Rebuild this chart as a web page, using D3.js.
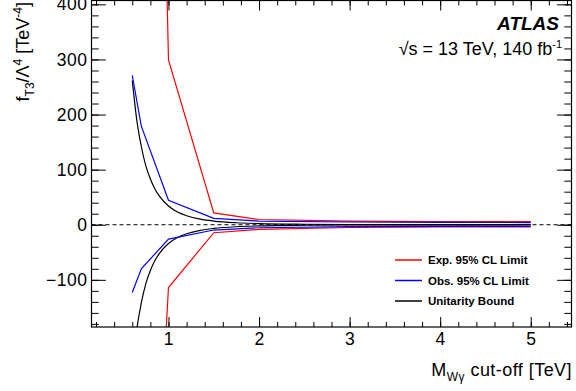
<!DOCTYPE html>
<html>
<head>
<meta charset="utf-8">
<script src="https://cdn.jsdelivr.net/npm/d3@7"></script>
<style>
  body { margin: 0; background: #fff; }
  svg { display: block; font-family: "Liberation Sans", Arial, Helvetica, sans-serif; }
</style>
</head>
<body>
<div id="chart"></div>
<script>
// --- data
const massExp = [0.7, 1.0, 1.5, 2, 3, 4, 5];
const expUpper = [2500, 299, 21.5, 9.5, 6.5, 5.8, 5.5];
const expLower = [-1000, -114, -14.5, -8.5, -5, -4, -4];

const massObs = [0.6, 0.7, 1.0, 1.5, 2, 3, 4, 5];
const obsUpper = [271, 179, 44.5, 11.6, 6.5, 5, 4.2, 4];
const obsLower = [-123, -80, -26, -9.6, -5.5, -3.5, -3, -3];

const massUni = [0.6, 0.65, 0.7, 0.75, 0.8, 0.85, 0.9, 1.0, 1.1, 1.2, 1.35, 1.5, 1.75, 2, 2.5, 3, 4, 5];
const uniUpper = [262, 190, 142, 107, 83, 65, 52, 34, 23, 16.4, 10.2, 6.7, 3.6, 2.1, 0.9, 0.4, 0.13, 0.05];
const uniLower = [-262, -190, -142, -107, -83, -65, -52, -34, -23, -16.4, -10.2, -6.7, -3.6, -2.1, -0.9, -0.4, -0.13, -0.05];

const xMajor = [1, 2, 3, 4, 5];
const yMajor = [-100, 0, 100, 200, 300, 400];
const legendLabels = ['Exp. 95% CL Limit', 'Obs. 95% CL Limit', 'Unitarity Bound'];
const legendColors = ['#ff0000', '#0000ff', '#000000'];

const width = 576, height = 391;
const frame = { left: 91.5, right: 571.5, top: 0.5, bottom: 327 };

const svg = d3.select('#chart').append('svg')
    .attr('width', width).attr('height', height);

const x = d3.scaleLinear().domain([0.15, 5.45]).range([frame.left, frame.right]);
const y = d3.scaleLinear().domain([-185.6, 407]).range([frame.bottom, frame.top]);

const xMinor = d3.range(0.2, 5.45, 0.2).map(v => +v.toFixed(1));
const yMinor = d3.range(-180, 407, 20);

svg.append('clipPath').attr('id', 'plot')
    .append('rect').attr('x', frame.left).attr('y', frame.top)
    .attr('width', frame.right - frame.left).attr('height', frame.bottom - frame.top);

// --- axes (ROOT style, ticks inside on all four sides)
const fmt = d => d < 0 ? '\u2212' + Math.abs(d) : String(d);

function styleAxis(g) {
    g.select('.domain').remove();
    g.selectAll('line').attr('stroke', '#000').attr('stroke-width', 1);
    g.selectAll('text').attr('fill', '#000').attr('font-size', 17.5)
        .attr('letter-spacing', 0.5)
        .attr('font-family', '"Liberation Sans", Arial, sans-serif');
}

svg.append('g').attr('transform', `translate(0,${frame.bottom})`)
    .call(d3.axisBottom(x).tickValues(xMajor).tickFormat(d3.format('d'))
        .tickSizeInner(-10).tickSizeOuter(0).tickPadding(6))
    .call(styleAxis);
svg.append('g').attr('transform', `translate(0,${frame.bottom})`)
    .call(d3.axisBottom(x).tickValues(xMinor).tickFormat('')
        .tickSizeInner(-5).tickSizeOuter(0))
    .call(styleAxis);
svg.append('g').attr('transform', `translate(0,${frame.top})`)
    .call(d3.axisTop(x).tickValues(xMajor).tickFormat('')
        .tickSizeInner(-10).tickSizeOuter(0))
    .call(styleAxis);
svg.append('g').attr('transform', `translate(0,${frame.top})`)
    .call(d3.axisTop(x).tickValues(xMinor).tickFormat('')
        .tickSizeInner(-5).tickSizeOuter(0))
    .call(styleAxis);

svg.append('g').attr('transform', `translate(${frame.left},0)`)
    .call(d3.axisLeft(y).tickValues(yMajor).tickFormat(fmt)
        .tickSizeInner(-14.4).tickSizeOuter(0).tickPadding(4))
    .call(styleAxis);
svg.append('g').attr('transform', `translate(${frame.left},0)`)
    .call(d3.axisLeft(y).tickValues(yMinor).tickFormat('')
        .tickSizeInner(-7.2).tickSizeOuter(0))
    .call(styleAxis);
svg.append('g').attr('transform', `translate(${frame.right},0)`)
    .call(d3.axisRight(y).tickValues(yMajor).tickFormat('')
        .tickSizeInner(-14.4).tickSizeOuter(0))
    .call(styleAxis);
svg.append('g').attr('transform', `translate(${frame.right},0)`)
    .call(d3.axisRight(y).tickValues(yMinor).tickFormat('')
        .tickSizeInner(-7.2).tickSizeOuter(0))
    .call(styleAxis);

// zero line
svg.append('line')
    .attr('x1', frame.left).attr('x2', frame.right)
    .attr('y1', y(0)).attr('y2', y(0))
    .attr('stroke', '#000').attr('stroke-width', 1)
    .attr('stroke-dasharray', '4,3');

// --- curves
const plot = svg.append('g').attr('clip-path', 'url(#plot)');
const straight = d3.line().x(d => x(d[0])).y(d => y(d[1]));
const smooth = d3.line().x(d => x(d[0])).y(d => y(d[1])).curve(d3.curveMonotoneX);

const series = [
    {m: massUni, v: uniUpper, c: legendColors[2], gen: smooth},
    {m: massUni, v: uniLower, c: legendColors[2], gen: smooth},
    {m: massExp, v: expUpper, c: legendColors[0], gen: straight},
    {m: massExp, v: expLower, c: legendColors[0], gen: straight},
    {m: massObs, v: obsUpper, c: legendColors[1], gen: straight},
    {m: massObs, v: obsLower, c: legendColors[1], gen: straight}
];
series.forEach(s => {
    plot.append('path')
        .attr('d', s.gen(s.m.map((m, i) => [m, s.v[i]])))
        .attr('fill', 'none').attr('stroke', s.c).attr('stroke-width', 1.2);
});

// frame
svg.append('rect')
    .attr('x', frame.left).attr('y', frame.top)
    .attr('width', frame.right - frame.left).attr('height', frame.bottom - frame.top)
    .attr('fill', 'none').attr('stroke', '#000').attr('stroke-width', 1.2);

// --- labels
svg.append('text').attr('x', 559).attr('y', 29.8)
    .attr('text-anchor', 'end').attr('font-size', 19)
    .attr('font-weight', 'bold').attr('font-style', 'italic')
    .text('ATLAS');

const lumi = svg.append('text').attr('x', 562).attr('y', 55)
    .attr('text-anchor', 'end').attr('font-size', 18);
lumi.append('tspan').text('\u221As = 13 TeV, 140 fb');
lumi.append('tspan').attr('font-size', 11).attr('dy', -7).text('-1');

const xt = svg.append('text').attr('x', 572).attr('y', 376)
    .attr('text-anchor', 'end').attr('font-size', 18)
    .attr('letter-spacing', 0.45);
xt.append('tspan').text('M');
xt.append('tspan').attr('font-size', 12).attr('dy', 5).text('W\u03B3');
xt.append('tspan').attr('dy', -5).text(' cut-off [TeV]');

const yt = svg.append('text').attr('transform', 'translate(29,2) rotate(-90)')
    .attr('text-anchor', 'end').attr('font-size', 18);
yt.append('tspan').text('f');
yt.append('tspan').attr('font-size', 12).attr('dy', 5).text('T3');
yt.append('tspan').attr('dy', -5).text('/\u039B');
yt.append('tspan').attr('font-size', 12).attr('dy', -7).text('4');
yt.append('tspan').attr('dy', 7).text(' [TeV');
yt.append('tspan').attr('font-size', 12).attr('dy', -7).text('-4');
yt.append('tspan').attr('dy', 7).text(']');

// --- legend
const legend = svg.append('g');
const rowY = d3.scalePoint().domain(legendLabels).range([260, 301]);
legendLabels.forEach((lab, i) => {
    legend.append('line')
        .attr('x1', 395).attr('x2', 422)
        .attr('y1', rowY(lab)).attr('y2', rowY(lab))
        .attr('stroke', legendColors[i]).attr('stroke-width', 1.5);
    legend.append('text')
        .attr('x', 428).attr('y', rowY(lab) + 4)
        .attr('font-size', 11.5).attr('font-weight', 'bold')
        .text(lab);
});
</script>
</body>
</html>
